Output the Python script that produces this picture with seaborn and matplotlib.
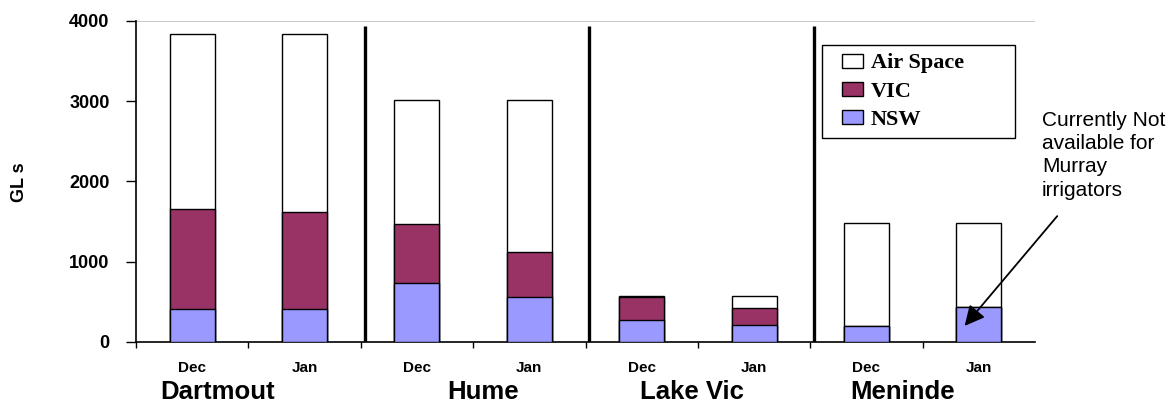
import matplotlib
matplotlib.use("Agg")
import matplotlib.pyplot as plt
import seaborn as sns
import pandas as pd
from matplotlib.patches import Patch, Rectangle
from matplotlib.legend_handler import HandlerPatch

# ---- data ----
groups = ["Dartmout", "Hume", "Lake Vic", "Meninde"]
months = ["Dec", "Jan"]
nsw = [407, 415, 731, 561, 278, 208, 203, 436]
vic = [1250, 1205, 739, 564, 283, 219, 0, 0]
air = [2173, 2210, 1540, 1885, 16, 150, 1284, 1051]
series_names = ["Air Space", "VIC", "NSW"]
y_ticks = [0, 1000, 2000, 3000, 4000]
annotation = "Currently Not\navailable for\nMurray\nirrigators"

cats = [f"{g}|{m}" for g in groups for m in months]
tot_nsw = nsw
tot_vic = [a + b for a, b in zip(nsw, vic)]
tot_air = [a + b for a, b in zip(tot_vic, air)]
df = pd.DataFrame({"cat": cats, "nsw": tot_nsw, "vic": tot_vic, "air": tot_air})

sns.set_theme(style="white")
plt.rcParams["font.family"] = ["Liberation Sans", "DejaVu Sans"]
for k in ["text.color", "axes.labelcolor", "xtick.color", "ytick.color"]:
    plt.rcParams[k] = "black"

W, H = 1170, 405
fig = plt.figure(figsize=(W / 100, H / 100), dpi=100)
ax = fig.add_axes([136 / W, 1 - 342 / H, (1035 - 136) / W, (342 - 20.7) / H])

col_air, col_vic, col_nsw = "#FFFFFF", "#993366", "#9999FF"
for key, c in [("air", col_air), ("vic", col_vic), ("nsw", col_nsw)]:
    sns.barplot(data=df, x="cat", y=key, order=cats, color=c, saturation=1,
                width=0.4, edgecolor="black", linewidth=1.0, ax=ax, zorder=3)

ax.set_xlim(-0.5, 7.5)
ax.set_ylim(0, 4000)
ax.set_yticks(y_ticks)
ax.set_yticklabels([str(v) for v in y_ticks], fontsize=13, fontweight="bold")
ax.set_xticks(range(8))
ax.set_xticklabels([m for g in groups for m in months], fontsize=11, fontweight="bold")
ax.set_xticks([i - 0.5 for i in range(8)], minor=True)
ax.tick_params(axis="x", which="major", length=0, pad=14)
ax.tick_params(axis="x", which="minor", length=4, width=1, color="black", direction="out", bottom=True)
ax.tick_params(axis="y", which="major", length=7, width=1, color="black", direction="out", left=True, pad=12)
ax.set_xlabel("")
ax.set_ylabel("")

for s in ["top", "right"]:
    ax.spines[s].set_visible(False)
for s in ["left", "bottom"]:
    ax.spines[s].set_color("black")
    ax.spines[s].set_linewidth(1.2)
ax.axhline(4000, color="#c0c0c0", lw=1.2, zorder=1)

# group separators
ax.vlines([1.535, 3.535, 5.535], 0, 3940, colors="black", lw=2.4, zorder=4)

# group labels
for g, xpos in zip(groups, [0.225, 2.587, 4.447, 6.324]):
    ax.text(xpos, -0.155, g, transform=ax.get_xaxis_transform(), ha="center", va="center",
            fontsize=18.5, fontweight="bold")

ax.text(20 / W, 1 - 182 / H, "GL s", transform=fig.transFigure, rotation=90,
        ha="center", va="center", fontsize=13, fontweight="bold")


def offset_square(legend, orig_handle, xdescent, ydescent, width, height, fontsize):
    w = width * 0.62
    h = height * 0.9
    return Rectangle((-xdescent + width - w, -ydescent + (height - h) / 2), w, h)


handles = [Patch(facecolor=c, edgecolor="black", linewidth=1.0)
           for c in [col_air, col_vic, col_nsw]]
leg = ax.legend(handles, series_names, loc="upper left", mode="expand",
                bbox_to_anchor=(822 / W, 1 - 45 / H, (1015 - 822) / W, 0),
                bbox_transform=fig.transFigure,
                prop={"family": ["Liberation Serif"], "weight": "bold", "size": 16},
                frameon=True, fancybox=False, edgecolor="black", framealpha=1,
                handlelength=1.5, handleheight=0.7, handletextpad=0.36,
                labelspacing=0.35, borderpad=0.35, borderaxespad=0,
                handler_map={Patch: HandlerPatch(patch_func=offset_square)})
leg.get_frame().set_linewidth(1.0)

ax.text(1042 / W, 1 - 111 / H, annotation, transform=fig.transFigure,
        ha="left", va="top", fontsize=15, linespacing=1.28)
ax.annotate("", xy=(6.858, 174), xycoords="data",
            xytext=(1059 / W, 1 - 214 / H), textcoords="figure fraction",
            arrowprops=dict(arrowstyle="-|>", color="black", lw=1.3, mutation_scale=30),
            annotation_clip=False, zorder=6)

fig.savefig("out.png", dpi=100)
